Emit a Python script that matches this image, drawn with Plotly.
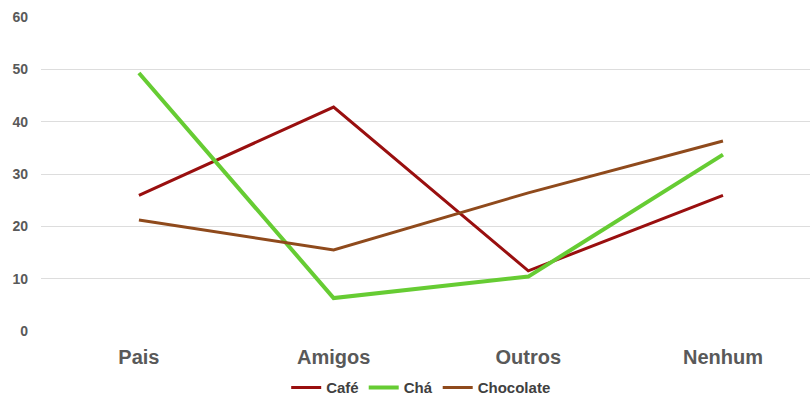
import plotly.graph_objects as go

categories = ["Pais", "Amigos", "Outros", "Nenhum"]
cafe = [25.9, 42.8, 11.5, 25.9]
cha = [49.3, 6.3, 10.4, 33.7]
chocolate = [21.2, 15.5, 26.4, 36.3]
y_ticks = [0, 10, 20, 30, 40, 50, 60]

fig = go.Figure()
fig.add_trace(go.Scatter(x=categories, y=cafe, name="Café", mode="lines",
                         line=dict(color="#990F0F", width=3)))
fig.add_trace(go.Scatter(x=categories, y=cha, name="Chá", mode="lines",
                         line=dict(color="#66CC33", width=4)))
fig.add_trace(go.Scatter(x=categories, y=chocolate, name="Chocolate", mode="lines",
                         line=dict(color="#8F4A1C", width=3)))

font_main = "Liberation Sans, Arial, sans-serif"
fig.update_layout(
    width=810, height=396,
    margin=dict(l=41, r=0, t=17, b=65, autoexpand=False),
    plot_bgcolor="white", paper_bgcolor="white",
    font=dict(family=font_main, color="#595959"),
    showlegend=True,
    legend=dict(orientation="h", x=0.52, xanchor="center", xref="container",
                y=-0.128, yanchor="top", yref="paper",
                bgcolor="rgba(0,0,0,0)",
                font=dict(size=15, color="#404040", family=font_main, weight="bold"),
                itemwidth=30, tracegroupgap=0),
    xaxis=dict(range=[-0.503, 3.447], showgrid=False, zeroline=False, showline=False,
               ticks="", tickfont=dict(size=20, color="#595959", weight="bold"),
               ticklabelstandoff=12, automargin=False),
    yaxis=dict(range=[0, 60], tickvals=y_ticks, showgrid=True, gridcolor="#DDDDDD",
               gridwidth=1, zeroline=False, showline=False, ticks="",
               tickfont=dict(size=14, color="#595959", weight="bold"),
               ticklabelstandoff=12, automargin=False),
)
fig.write_html("out.html")
